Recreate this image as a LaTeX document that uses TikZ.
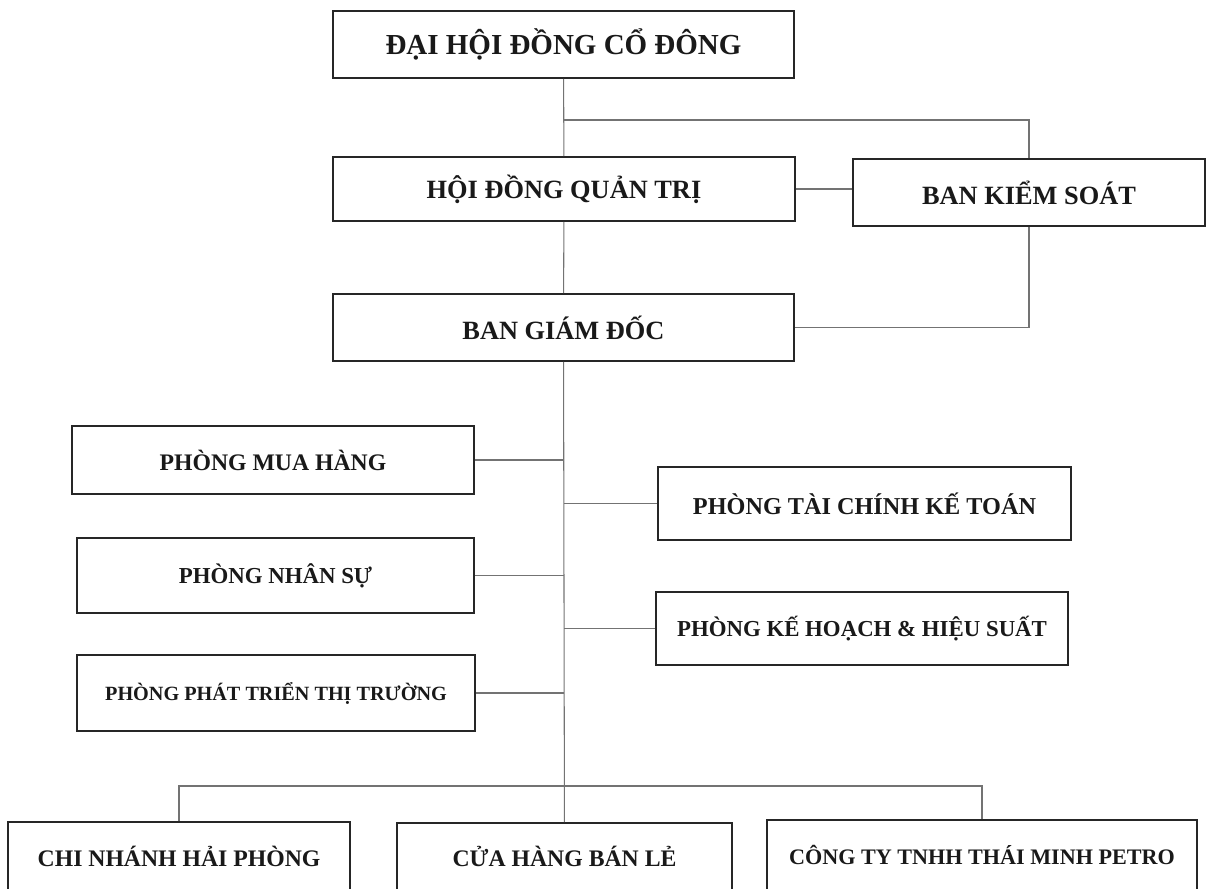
\documentclass[tikz,border=0pt]{standalone}
\usepackage{fontspec}
\setmainfont{Liberation Serif}
\usetikzlibrary{positioning}

\begin{document}
\begin{tikzpicture}[
            x=0.02cm, y=-0.02cm,
            orgbox/.style={rectangle, draw=black!85, line width=1.1pt, fill=white, inner sep=2pt, align=center, text=black!90},
            bigfont/.style={font=\fontsize{16.5}{18}\selectfont\bfseries},
            midfont/.style={font=\fontsize{15}{17}\selectfont\bfseries},
            deptfont/.style={font=\fontsize{13.5}{15}\selectfont\bfseries},
            link/.style={draw=black!55, line width=0.6pt}
        ]
        \useasboundingbox (0,0) rectangle (1207,889);
        % top levels
        \node [orgbox, bigfont, minimum width=9.22cm, minimum height=1.34cm] (dhdcd) at (563.5,44.5) {ĐẠI HỘI ĐỒNG CỔ ĐÔNG};
        \node [orgbox, midfont, minimum width=9.24cm, minimum height=1.28cm] (hdqt) at (564,189) {HỘI ĐỒNG QUẢN TRỊ};
        \node [orgbox, midfont, minimum width=7.04cm, minimum height=1.34cm] (bks) at (1029,192.5) {BAN KIỂM SOÁT};
        \node [orgbox, midfont, minimum width=9.22cm, minimum height=1.34cm] (bgd) at (563.5,327.5) {BAN GIÁM ĐỐC};
        % departments
        \node [orgbox, deptfont, minimum width=8.04cm, minimum height=1.36cm] (pmh) at (273,460) {PHÒNG MUA HÀNG};
        \node [orgbox, deptfont, font=\fontsize{13}{15}\selectfont\bfseries, minimum width=7.94cm, minimum height=1.5cm] (pns) at (275.5,575.5) {PHÒNG NHÂN SỰ};
        \node [orgbox, font=\fontsize{11.5}{13}\selectfont\bfseries, minimum width=7.96cm, minimum height=1.52cm] (ppttt) at (276,693) {PHÒNG PHÁT TRIỂN THỊ TRƯỜNG};
        \node [orgbox, font=\fontsize{13.8}{15}\selectfont\bfseries, minimum width=8.26cm, minimum height=1.46cm] (ptckt) at (864.5,503.5) {PHÒNG TÀI CHÍNH KẾ TOÁN};
        \node [orgbox, font=\fontsize{13}{15}\selectfont\bfseries, minimum width=8.24cm, minimum height=1.46cm] (pkh) at (862,628.5) {PHÒNG KẾ HOẠCH \& HIỆU SUẤT};
        % branches
        \node [orgbox, deptfont, minimum width=6.84cm, minimum height=1.36cm] (cnhp) at (179,856) {CHI NHÁNH HẢI PHÒNG};
        \node [orgbox, deptfont, minimum width=6.7cm, minimum height=1.34cm] (chbl) at (564.5,856.5) {CỬA HÀNG BÁN LẺ};
        \node [orgbox, font=\fontsize{12.6}{14}\selectfont\bfseries, minimum width=8.6cm, minimum height=1.4cm] (cty) at (982,855) {CÔNG TY TNHH THÁI MINH PETRO};
        \coordinate (tap) at (564,120);
        \coordinate (bus) at (564,786);
        % connectors
        \draw [link] (dhdcd) -- (hdqt);
        \draw [link] (tap) -| (bks.north);
        \draw [link] (hdqt.east) -- (hdqt.east -| bks.west);
        \draw [link] (hdqt) -- (bgd);
        \draw [link] (bks.south) |- (bgd.east);
        \draw [link] (bgd) -- (chbl);
        \draw [link] (pmh.east) -- (pmh.east -| bgd.south);
        \draw [link] (pns.east) -- (pns.east -| bgd.south);
        \draw [link] (ppttt.east) -- (ppttt.east -| bgd.south);
        \draw [link] (ptckt.west) -- (ptckt.west -| bgd.south);
        \draw [link] (pkh.west) -- (pkh.west -| bgd.south);
        \draw [link] (cnhp.north) |- (bus) -| (cty.north);
    \end{tikzpicture}
\end{document}
